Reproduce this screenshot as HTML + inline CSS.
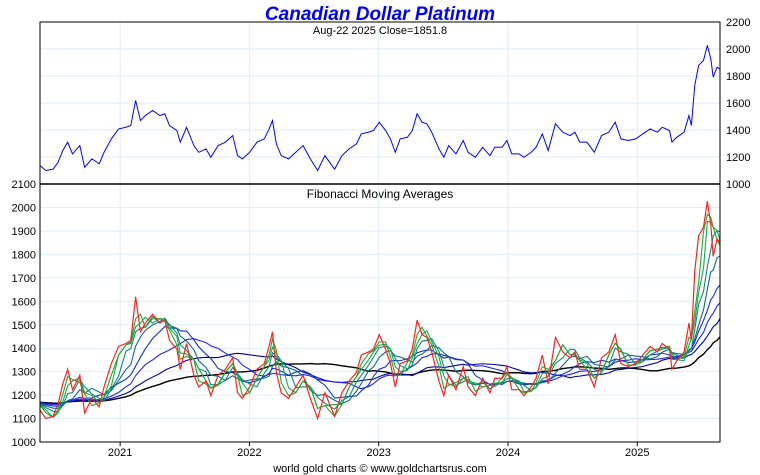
<!DOCTYPE html>
<html><head><meta charset="utf-8"><style>
body{margin:0;background:#fff;}
svg{display:block;font-family:"Liberation Sans",sans-serif;}
</style></head><body>
<svg id="chart" width="760" height="475">
<text x="380" y="20" text-anchor="middle" font-size="19" font-weight="bold" font-style="italic" fill="#0000ff">Canadian Dollar Platinum</text>
<text x="380" y="34" text-anchor="middle" font-size="11" fill="#000">Aug-22  2025   Close=1851.8</text>
<text x="380" y="198" text-anchor="middle" font-size="12" fill="#000">Fibonacci Moving Averages</text>
<text x="380" y="472" text-anchor="middle" font-size="11" fill="#000">world gold charts © www.goldchartsrus.com</text>
<g id="grid"></g><g id="marks"></g><g id="axes"></g>
</svg>
<script>
const dates=[83,95,110,120,130,140,150,165,175,190,205,215,230,245,260,270,280,290,300,315,330,340,350,365,372,385,400,410,425,435,450,465,480,490,500,515,530,545,555,562,570,580,595,610,625,640,655,670,690,705,720,735,745,760,770,782,795,805,815,825,840,850,860,870,880,890,905,915,925,940,955,965,980,995,1010,1020,1035,1045,1055,1070,1080,1095,1105,1118,1130,1145,1160,1175,1185,1195,1210,1225,1240,1255,1268,1280,1295,1310,1325,1340,1355,1365,1380,1385,1395,1410,1420,1425,1432,1440,1450,1458,1465,1470,1478,1484];
const prices=[1136,1100,1110,1160,1248,1310,1223,1285,1124,1186,1150,1235,1334,1408,1420,1433,1619,1470,1507,1545,1507,1520,1433,1396,1310,1420,1285,1235,1260,1198,1285,1310,1359,1210,1186,1235,1310,1334,1408,1470,1297,1210,1186,1235,1285,1186,1100,1210,1110,1210,1260,1297,1371,1384,1396,1458,1396,1334,1235,1334,1346,1396,1520,1458,1446,1384,1260,1198,1285,1223,1322,1235,1198,1272,1210,1272,1272,1322,1223,1223,1198,1235,1272,1371,1248,1446,1384,1359,1384,1310,1310,1235,1359,1384,1458,1334,1322,1334,1371,1408,1384,1420,1396,1310,1346,1384,1507,1433,1730,1879,1916,2027,1928,1792,1866,1851];
const years=[2021,2022,2023,2024,2025];
const topTicks=[1000,1200,1400,1600,1800,2000,2200];
const botTicks=[1000,1100,1200,1300,1400,1500,1600,1700,1800,1900,2000,2100];
const maPeriods=[8,13,21,34,55,89,144,233];
const maColors=["#22aa22","#11aa55","#118877","#116688","#1133cc","#2222ff","#0000aa","#000000"];
const t0=2020.38,t1=2025.64;
const tYear=d=>t0+(d-83)/(1484-83)*(t1-t0);
const X0=40,X1=720;
const xs=y=>X0+(y-t0)/(t1-t0)*(X1-X0);
const yTop=p=>184-(p-1000)*162/1200;
const yBot=p=>442-(p-1000)*0.2345;
const NS="http://www.w3.org/2000/svg";
function mk(tag,attrs,parent){const e=document.createElementNS(NS,tag);for(const k in attrs)e.setAttribute(k,attrs[k]);document.getElementById(parent).appendChild(e);return e;}
for(const yr of years){const x=xs(yr);
 let g=mk('line',{x1:x,x2:x,y1:22,y2:442,stroke:'#ddeef8','stroke-width':1},'grid');
 
 
 let t=mk('text',{x:x,y:456,'text-anchor':'middle','font-size':11},'axes');t.textContent=yr;
 
 
 mk('line',{x1:x,x2:x,y1:442,y2:446,stroke:'#000'},'axes');}
for(const p of topTicks){const y=yTop(p);
 if(p>1000&&p<2200)mk('line',{x1:X0,x2:X1,y1:y,y2:y,stroke:'#ddeef8'},'grid');
 let t=mk('text',{x:726,y:y+4,'font-size':11},'axes');t.textContent=p;
 
 }
for(const p of botTicks){const y=yBot(p);
 if(p>1000&&p<2100)mk('line',{x1:X0,x2:X1,y1:y,y2:y,stroke:'#ddeef8'},'grid');
 let t=mk('text',{x:36,y:y+4,'font-size':11,'text-anchor':'end'},'axes');t.textContent=p;
 
 }
mk('rect',{x:X0,y:22,width:X1-X0,height:420,fill:'none',stroke:'#000'},'axes');
mk('line',{x1:X0,x2:X1,y1:184,y2:184,stroke:'#000','stroke-width':1.5},'axes');
const T=dates.map(tYear);
const seed=1170;
function ma(days){const w=days/135;return T.map((t,i)=>{let s=0,n=0;for(let j=0;j<=i;j++){if(T[j]>=t-w){s+=prices[j];n++;}}
 const missing=Math.max(0,(T[0]-(t-w)))/(T[1]-T[0]);if(missing>0){s+=seed*missing;n+=missing;}return s/n;});}
for(let k=maPeriods.length-1;k>=0;k--){const v=ma(maPeriods[k]);
 const l=mk('polyline',{points:T.map((t,i)=>xs(t)+','+yBot(v[i])).join(' '),fill:'none',stroke:maColors[k],'stroke-width':k==7?1.4:1.1},'marks');
 
 }
const pl=mk('polyline',{points:T.map((t,i)=>xs(t)+','+yBot(prices[i])).join(' '),fill:'none',stroke:'#ff2020','stroke-width':1.2},'marks');


const tl=mk('polyline',{points:T.map((t,i)=>xs(t)+','+yTop(prices[i])).join(' '),fill:'none',stroke:'#0000ff','stroke-width':1},'marks');


</script>
</body></html>
